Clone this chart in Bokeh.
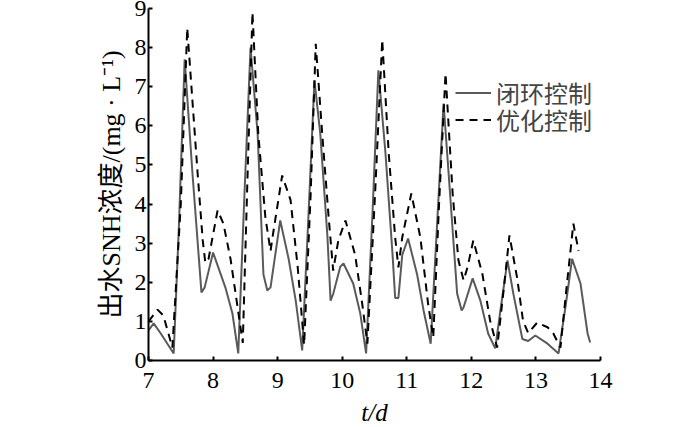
from bokeh.plotting import figure
from bokeh.models import FixedTicker, Legend, LegendItem, Range1d, Title
from bokeh.embed import file_html
from bokeh.resources import INLINE

# ---- data ----
t_closed = [7.0, 7.08, 7.19, 7.39, 7.47, 7.56, 7.68, 7.82, 7.87, 8.0, 8.19, 8.30, 8.39,
            8.48, 8.58, 8.69, 8.78, 8.84, 8.89, 9.04, 9.17, 9.28, 9.38,
            9.48, 9.57, 9.66, 9.77, 9.82, 9.86, 9.97, 10.02, 10.17, 10.28, 10.37,
            10.47, 10.56, 10.67, 10.78, 10.82, 10.87, 10.93, 11.02, 11.16, 11.26, 11.37,
            11.47, 11.57, 11.67, 11.78, 11.85, 11.88, 12.02, 12.14, 12.26, 12.37,
            12.46, 12.56, 12.65, 12.79, 12.88, 12.99, 13.18, 13.35,
            13.46, 13.56, 13.69, 13.80, 13.84]
y_closed = [0.77, 0.95, 0.69, 0.18, 3.4, 7.7, 4.8, 1.74, 1.87, 2.76, 1.87, 1.2, 0.18,
            4.0, 8.0, 5.8, 2.2, 1.79, 1.87, 3.58, 2.6, 1.53, 0.26,
            3.8, 7.16, 5.8, 3.2, 1.53, 1.7, 2.4, 2.48, 1.97, 1.2, 0.18,
            3.8, 7.42, 5.3, 2.7, 1.6, 1.6, 2.7, 3.12, 2.2, 1.28, 0.43,
            3.5, 6.57, 4.27, 1.71, 1.28, 1.36, 2.1, 1.53, 0.69, 0.31,
            1.4, 2.56, 1.71, 0.55, 0.5, 0.64, 0.43, 0.18,
            1.4, 2.6, 1.97, 0.69, 0.46]

t_opt = [7.0, 7.14, 7.23, 7.37, 7.5, 7.6, 7.76, 7.84, 7.88, 7.93, 8.07, 8.16, 8.27, 8.38, 8.46,
         8.53, 8.61, 8.70, 8.81, 8.89, 8.93, 9.07, 9.2, 9.31, 9.41,
         9.51, 9.59, 9.69, 9.79, 9.86, 9.94, 10.05, 10.2, 10.31, 10.39,
         10.51, 10.62, 10.72, 10.82, 10.87, 10.93, 11.07, 11.21, 11.33, 11.41,
         11.5, 11.6, 11.71, 11.8, 11.88, 11.94, 12.03, 12.17, 12.29, 12.4,
         12.5, 12.59, 12.71, 12.8, 12.88, 13.02, 13.18, 13.27, 13.38,
         13.47, 13.58, 13.66]
y_opt = [1.0, 1.3, 1.15, 0.33, 4.0, 8.5, 4.8, 3.07, 2.5, 2.6, 3.84, 3.5, 2.6, 1.36, 0.45,
         4.5, 8.9, 5.8, 3.66, 2.8, 3.25, 4.73, 4.1, 2.4, 0.4,
         4.2, 8.1, 5.8, 3.66, 2.3, 3.07, 3.58, 2.7, 1.45, 0.43,
         4.3, 8.2, 5.3, 3.15, 2.38, 3.15, 4.27, 3.15, 1.45, 0.59,
         4.0, 7.34, 4.27, 2.56, 2.05, 2.38, 3.07, 2.22, 1.02, 0.33,
         1.8, 3.2, 2.1, 1.02, 0.7, 0.97, 0.85, 0.69, 0.33,
         1.8, 3.5, 2.8]

x_ticks = [7, 8, 9, 10, 11, 12, 13, 14]
y_ticks = [0, 1, 2, 3, 4, 5, 6, 7, 8, 9]
name_closed = "闭环控制"
name_opt = "优化控制"
y_label = "出水SNH浓度/(mg · L⁻¹)"
x_label = "t/d"

FONT = "'Liberation Serif', 'Noto Sans CJK SC'"

p = figure(frame_width=452, frame_height=352,
           x_range=Range1d(7, 14), y_range=Range1d(0, 9),
           output_backend="svg", toolbar_location=None,
           min_border_left=148, min_border_right=92,
           min_border_top=8, min_border_bottom=66)
p.outline_line_color = None
p.xgrid.visible = False
p.ygrid.visible = False
p.background_fill_color = "white"
p.border_fill_color = "white"

for ax, ticks in ((p.xaxis[0], x_ticks), (p.yaxis[0], y_ticks)):
    ax.ticker = FixedTicker(ticks=ticks)
    ax.minor_tick_line_color = None
    ax.major_tick_in = 4
    ax.major_tick_out = 0
    ax.axis_line_width = 2
    ax.axis_line_color = "black"
    ax.major_tick_line_width = 2
    ax.major_label_text_font = FONT
    ax.major_label_text_font_size = "24px"
    ax.major_label_text_color = "black"

p.xaxis.major_label_standoff = 12
p.yaxis.major_label_standoff = 2

p.xaxis.axis_label = x_label
p.xaxis.axis_label_text_font = FONT
p.xaxis.axis_label_text_font_size = "25px"
p.xaxis.axis_label_text_font_style = "italic"
p.xaxis.axis_label_text_color = "black"
p.xaxis.axis_label_standoff = 8

r1 = p.line(t_closed, y_closed, line_color="#5a5a5a", line_width=2)
r2 = p.line(t_opt, y_opt, line_color="black", line_width=2, line_dash="8 6")

common = dict(padding=0, margin=0, spacing=0,
              glyph_height=25, glyph_width=36, label_height=25, label_standoff=5,
              label_text_font=FONT, label_text_font_size="24px",
              background_fill_alpha=0, border_line_color=None)
legend1 = Legend(items=[LegendItem(label=name_closed, renderers=[r1])],
                 location=(307, 250), **common)
legend2 = Legend(items=[LegendItem(label=name_opt, renderers=[r2])],
                 location=(307, 223), **common)
p.add_layout(legend1)
p.add_layout(legend2)

# y axis title, placed in the left panel
ytitle = Title(text=y_label, align="left", offset=42, standoff=12,
               text_font=FONT, text_font_size="26px", text_font_style="normal",
               text_color="black")
p.add_layout(ytitle, "left")

open("out.html", "w").write(file_html(p, INLINE))
